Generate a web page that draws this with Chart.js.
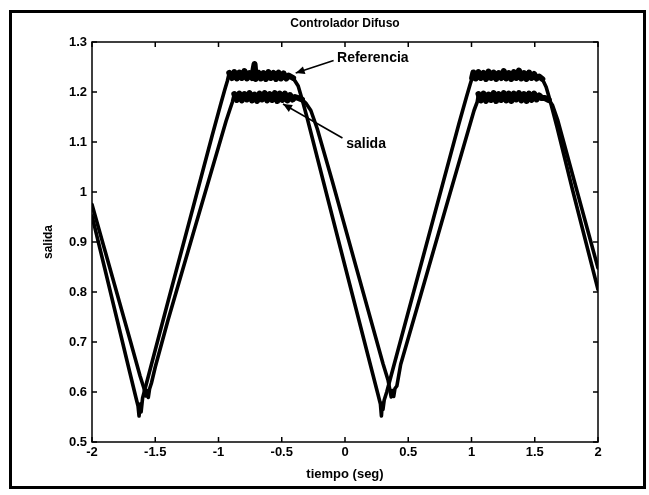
<!DOCTYPE html>
<html><head><meta charset="utf-8">
<script src="https://cdn.jsdelivr.net/npm/chart.js@4.4.1/dist/chart.umd.min.js"></script>
<style>html,body{margin:0;padding:0;background:#fff;}canvas{display:block;}</style>
</head><body>
<canvas id="c" width="649" height="495"></canvas>
<script>
const chartTitle = 'Controlador Difuso';
const xAxisTitle = 'tiempo (seg)';
const yAxisTitle = 'salida';
const refLabel = 'Referencia';
const salLabel = 'salida';

const xTickValues = [-2, -1.5, -1, -0.5, 0, 0.5, 1, 1.5, 2];
const xTickLabels = ['-2', '-1.5', '-1', '-0.5', '0', '0.5', '1', '1.5', '2'];
const yTickValues = [0.5, 0.6, 0.7, 0.8, 0.9, 1, 1.1, 1.2, 1.3];
const yTickLabels = ['0.5', '0.6', '0.7', '0.8', '0.9', '1', '1.1', '1.2', '1.3'];

const refTime = [
  -2.00, -1.90, -1.80, -1.70, -1.65, -1.636, -1.628, -1.620, -1.612, -1.600, -1.55, -1.40, -1.20, -1.05, -0.98, -0.95, -0.93,
  -0.915, -0.895, -0.875, -0.855, -0.835, -0.815, -0.795, -0.775, -0.755, -0.735, -0.715, -0.705, -0.685, -0.665, -0.645, -0.625, -0.605, -0.585, -0.565, -0.545, -0.525, -0.505, -0.485, -0.465, -0.445,
  -0.41, -0.37, -0.34, -0.30, -0.174, 0.00, 0.20, 0.26, 0.280, 0.288, 0.295, 0.300, 0.31, 0.33,
  0.50, 0.70, 0.90, 0.96, 0.99, 1.005,
  1.015, 1.035, 1.055, 1.075, 1.095, 1.115, 1.135, 1.155, 1.175, 1.195, 1.215, 1.235, 1.255, 1.275, 1.295, 1.315, 1.335, 1.355, 1.375, 1.395, 1.415, 1.435, 1.455, 1.475, 1.495, 1.515, 1.535,
  1.56, 1.59, 1.62, 1.676, 1.80, 2.00
];
const refValue = [
  0.952, 0.848, 0.743, 0.638, 0.586, 0.572, 0.552, 0.576, 0.560, 0.588, 0.636, 0.780, 0.970, 1.113, 1.178, 1.205, 1.222,
  1.238, 1.228, 1.240, 1.227, 1.239, 1.228, 1.242, 1.227, 1.238, 1.228, 1.256, 1.226, 1.239, 1.227, 1.238, 1.226, 1.240, 1.228, 1.238, 1.226, 1.239, 1.227, 1.237, 1.227, 1.233,
  1.228, 1.212, 1.186, 1.149, 1.024, 0.852, 0.655, 0.596, 0.576, 0.552, 0.578, 0.565, 0.584, 0.600,
  0.760, 0.948, 1.136, 1.190, 1.216, 1.228,
  1.239, 1.227, 1.240, 1.228, 1.238, 1.226, 1.241, 1.228, 1.239, 1.226, 1.238, 1.228, 1.242, 1.227, 1.238, 1.226, 1.240, 1.228, 1.243, 1.227, 1.238, 1.226, 1.239, 1.228, 1.236, 1.227, 1.231,
  1.226, 1.210, 1.184, 1.130, 1.003, 0.805
];

const salTime = [
  -2.00, -1.90, -1.80, -1.70, -1.62, -1.59, -1.575, -1.565, -1.555, -1.545, -1.53, -1.50, -1.40, -1.20, -1.00, -0.94, -0.91, -0.89,
  -0.875, -0.855, -0.835, -0.815, -0.795, -0.775, -0.755, -0.735, -0.715, -0.695, -0.675, -0.655, -0.635, -0.615, -0.595, -0.575, -0.555, -0.535, -0.515, -0.495, -0.475, -0.455, -0.435, -0.415, -0.395,
  -0.37, -0.34, -0.31, -0.27, -0.22, -0.103, 0.10, 0.30, 0.34, 0.355, 0.365, 0.375, 0.385, 0.395, 0.41, 0.44,
  0.60, 0.80, 0.98, 1.02, 1.045,
  1.055, 1.075, 1.095, 1.115, 1.135, 1.155, 1.175, 1.195, 1.215, 1.235, 1.255, 1.275, 1.295, 1.315, 1.335, 1.355, 1.375, 1.395, 1.415, 1.435, 1.455, 1.475, 1.495, 1.515, 1.535, 1.555,
  1.58, 1.61, 1.64, 1.68, 1.72, 2.00
];
const salValue = [
  0.975, 0.885, 0.795, 0.705, 0.632, 0.608, 0.592, 0.603, 0.589, 0.606, 0.618, 0.650, 0.743, 0.917, 1.090, 1.142, 1.165, 1.180,
  1.196, 1.184, 1.197, 1.183, 1.196, 1.185, 1.198, 1.183, 1.195, 1.182, 1.197, 1.185, 1.198, 1.183, 1.196, 1.184, 1.198, 1.182, 1.197, 1.184, 1.197, 1.183, 1.194, 1.185, 1.190,
  1.188, 1.185, 1.178, 1.163, 1.127, 1.024, 0.839, 0.657, 0.624, 0.604, 0.590, 0.603, 0.591, 0.607, 0.612, 0.655,
  0.795, 0.971, 1.128, 1.163, 1.180,
  1.196, 1.183, 1.197, 1.182, 1.195, 1.184, 1.198, 1.182, 1.196, 1.184, 1.198, 1.183, 1.197, 1.182, 1.197, 1.185, 1.198, 1.183, 1.196, 1.182, 1.197, 1.184, 1.197, 1.185, 1.193, 1.188,
  1.188, 1.184, 1.174, 1.145, 1.108, 0.848
];

const FONT = "'Liberation Sans', Arial, sans-serif";
const toPts = (t, v) => t.map((x, i) => ({x: x, y: v[i]}));

function drawArrow(ctx, x1, y1, x2, y2) {
  ctx.beginPath();
  ctx.moveTo(x1, y1);
  ctx.lineTo(x2, y2);
  ctx.stroke();
  const a = Math.atan2(y2 - y1, x2 - x1);
  const L = 9, W = 4;
  ctx.beginPath();
  ctx.moveTo(x2, y2);
  ctx.lineTo(x2 - L * Math.cos(a) + W * Math.sin(a), y2 - L * Math.sin(a) - W * Math.cos(a));
  ctx.lineTo(x2 - L * Math.cos(a) - W * Math.sin(a), y2 - L * Math.sin(a) + W * Math.cos(a));
  ctx.closePath();
  ctx.fill();
}

const decorPlugin = {
  id: 'decor',
  afterDraw(chart) {
    const ctx = chart.ctx;
    const {left, right, top, bottom} = chart.chartArea;
    const xs = chart.scales.x, ys = chart.scales.y;
    ctx.save();
    ctx.strokeStyle = '#000';
    ctx.fillStyle = '#000';
    ctx.lineWidth = 1.5;
    ctx.strokeRect(left, top, right - left, bottom - top);
    ctx.beginPath();
    xTickValues.forEach(v => {
      const p = xs.getPixelForValue(v);
      ctx.moveTo(p, bottom); ctx.lineTo(p, bottom - 5);
      ctx.moveTo(p, top); ctx.lineTo(p, top + 5);
    });
    yTickValues.forEach(v => {
      const p = ys.getPixelForValue(v);
      ctx.moveTo(left, p); ctx.lineTo(left + 5, p);
      ctx.moveTo(right, p); ctx.lineTo(right - 5, p);
    });
    ctx.stroke();
    ctx.lineWidth = 3;
    ctx.strokeRect(10.5, 11.5, 634, 476);
    ctx.font = 'bold 12px ' + FONT;
    ctx.textAlign = 'center';
    ctx.textBaseline = 'middle';
    ctx.fillText(chartTitle, (left + right) / 2, 24);
    ctx.font = 'bold 14px ' + FONT;
    ctx.textAlign = 'left';
    ctx.fillText(refLabel, xs.getPixelForValue(-0.063), ys.getPixelForValue(1.268));
    ctx.fillText(salLabel, xs.getPixelForValue(0.01), ys.getPixelForValue(1.096));
    ctx.lineWidth = 1.6;
    drawArrow(ctx, xs.getPixelForValue(-0.09), ys.getPixelForValue(1.263), xs.getPixelForValue(-0.39), ys.getPixelForValue(1.238));
    drawArrow(ctx, xs.getPixelForValue(-0.02), ys.getPixelForValue(1.108), xs.getPixelForValue(-0.49), ys.getPixelForValue(1.176));
    ctx.restore();
  }
};

const plateauWidth = (lo) => (c) => (c.p0.parsed.y > lo && c.p1.parsed.y > lo) ? 6 : undefined;

new Chart(document.getElementById('c'), {
  type: 'line',
  data: {
    datasets: [
      {label: refLabel, data: toPts(refTime, refValue), borderColor: '#000', borderWidth: 3.6, pointRadius: 0, tension: 0, fill: false, borderJoinStyle: 'round', borderCapStyle: 'round', segment: {borderWidth: plateauWidth(1.222)}},
      {label: salLabel, data: toPts(salTime, salValue), borderColor: '#000', borderWidth: 3.6, pointRadius: 0, tension: 0, fill: false, borderJoinStyle: 'round', borderCapStyle: 'round', segment: {borderWidth: plateauWidth(1.181)}}
    ]
  },
  options: {
    responsive: false,
    animation: false,
    devicePixelRatio: 1,
    layout: {padding: {left: 10, right: 51, top: 42, bottom: 13}},
    plugins: {legend: {display: false}, tooltip: {enabled: false}, title: {display: false}},
    scales: {
      x: {
        type: 'linear', position: 'bottom', min: -2, max: 2,
        afterBuildTicks: s => { s.ticks = xTickValues.map(v => ({value: v})); },
        afterFit: s => { s.height = 40; },
        grid: {display: false, drawTicks: false},
        border: {display: false},
        ticks: {callback: (v, i) => xTickLabels[i], color: '#000', font: {family: FONT, size: 13, weight: 'bold'}, padding: 3, maxRotation: 0, autoSkip: false},
        title: {display: true, text: xAxisTitle, color: '#000', font: {family: FONT, size: 13, weight: 'bold'}, padding: {top: 0, bottom: 0}}
      },
      y: {
        type: 'linear', position: 'left', min: 0.5, max: 1.3,
        afterBuildTicks: s => { s.ticks = yTickValues.map(v => ({value: v})); },
        afterFit: s => { s.width = 82; },
        grid: {display: false, drawTicks: false},
        border: {display: false},
        ticks: {callback: (v, i) => yTickLabels[i], color: '#000', font: {family: FONT, size: 13, weight: 'bold'}, padding: 5, autoSkip: false},
        title: {display: true, text: yAxisTitle, color: '#000', font: {family: FONT, size: 12, weight: 'bold'}, padding: {top: 31, bottom: 0}}
      }
    }
  },
  plugins: [decorPlugin]
});
</script>
</body></html>
